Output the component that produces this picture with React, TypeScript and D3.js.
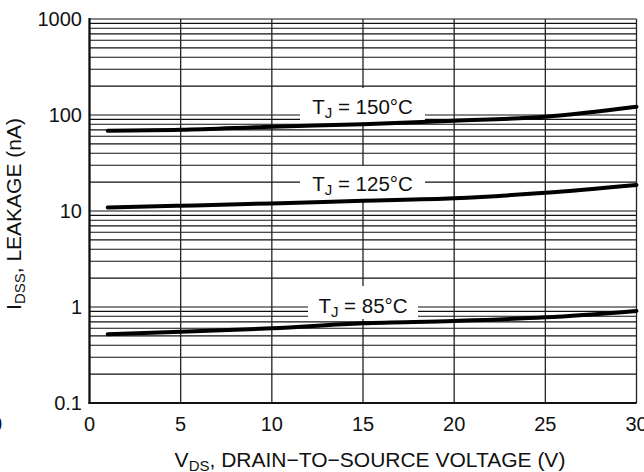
import React from "react";
import * as d3 from "d3";

const vds = [1, 5, 10, 15, 20, 25, 30];
const i150 = [68.6, 70, 75.5, 80, 87, 96, 122];
const i125 = [10.9, 11.35, 12.0, 12.8, 13.6, 15.5, 18.7];
const i85 = [0.52, 0.553, 0.6, 0.676, 0.715, 0.78, 0.91];
const xTicks = [0, 5, 10, 15, 20, 25, 30];
const yTicks = [0.1, 1, 10, 100, 1000];
const yTickLabels = ["0.1", "1", "10", "100", "1000"];
const seriesLabels = ["150°C", "125°C", "85°C"];

const W = 644;
const H = 472;
const L = 89.5, R = 636.5, T = 19, B = 403;

export default function App() {
  const x = d3.scaleLinear().domain([0, 30]).range([L, R]);
  const y = d3.scaleLog().domain([0.1, 1000]).range([B, T]);

  const minor: number[] = [];
  [0.1, 1, 10, 100].forEach((d) => {
    for (let k = 1; k <= 9; k++) minor.push(d * k);
  });
  minor.push(1000);

  const line = d3
    .line<[number, number]>()
    .x((d) => x(d[0]))
    .y((d) => y(d[1]))
    .curve(d3.curveMonotoneX);

  const series = [i150, i125, i85];

  const boxes = [
    { x0: 300, x1: 425, y0: 88, y1: 122, tx: 362.5, ty: 113.5 },
    { x0: 300, x1: 425, y0: 166, y1: 200, tx: 362.5, ty: 190.5 },
    { x0: 308, x1: 418, y0: 286, y1: 319, tx: 363, ty: 312.5 },
  ];

  const font = "'Liberation Sans', Arial, Helvetica, sans-serif";

  return (
    <svg
      width={W}
      height={H}
      style={{ position: "absolute", left: 0, top: 0, background: "#fff" }}
      fontFamily={font}
    >
      <rect x={0} y={0} width={W} height={H} fill="#fff" />
      {minor.map((v, i) => (
        <line key={"h" + i} x1={L} x2={R} y1={y(v)} y2={y(v)} stroke="#111" strokeWidth={1.1} />
      ))}
      {xTicks.map((v, i) => (
        <line key={"v" + i} x1={x(v)} x2={x(v)} y1={T} y2={B} stroke="#222" strokeWidth={1.3} />
      ))}
      {boxes.map((b, i) => (
        <rect key={"b" + i} x={b.x0} y={b.y0} width={b.x1 - b.x0} height={b.y1 - b.y0} fill="#fff" />
      ))}
      {series.map((s, i) => (
        <path
          key={"s" + i}
          d={line(vds.map((v, j) => [v, s[j]] as [number, number])) || ""}
          fill="none"
          stroke="#000"
          strokeWidth={4}
          strokeLinecap="round"
        />
      ))}
      {boxes.map((b, i) => (
        <text key={"t" + i} x={b.tx} y={b.ty} fontSize={20.5} textAnchor="middle" fill="#111">
          T<tspan fontSize={15} dy={4}>J</tspan>
          <tspan dy={-4}>{" = " + seriesLabels[i]}</tspan>
        </text>
      ))}
      <line x1={L} x2={L} y1={T - 1} y2={B + 1} stroke="#111" strokeWidth={2.2} />
      <line x1={L - 1} x2={R} y1={B} y2={B} stroke="#111" strokeWidth={2.2} />
      {yTicks.map((v, i) => (
        <text key={"yt" + i} x={82} y={y(v) + 7} fontSize={20} textAnchor="end" fill="#111">
          {yTickLabels[i]}
        </text>
      ))}
      {xTicks.map((v, i) => (
        <text key={"xt" + i} x={x(v)} y={430.5} fontSize={20} textAnchor="middle" fill="#111">
          {v}
        </text>
      ))}
      <text x={2} y={430.5} fontSize={20} textAnchor="end" fill="#111">0</text>
      <text x={370} y={467} fontSize={21} textAnchor="middle" fill="#111">
        V<tspan fontSize={15} dy={4}>DS</tspan>
        <tspan dy={-4}>, DRAIN−TO−SOURCE VOLTAGE (V)</tspan>
      </text>
      <text
        transform={`translate(21, 214) rotate(-90)`}
        fontSize={21}
        textAnchor="middle"
        fill="#111"
      >
        I<tspan fontSize={15} dy={4}>DSS</tspan>
        <tspan dy={-4}>, LEAKAGE (nA)</tspan>
      </text>
    </svg>
  );
}
